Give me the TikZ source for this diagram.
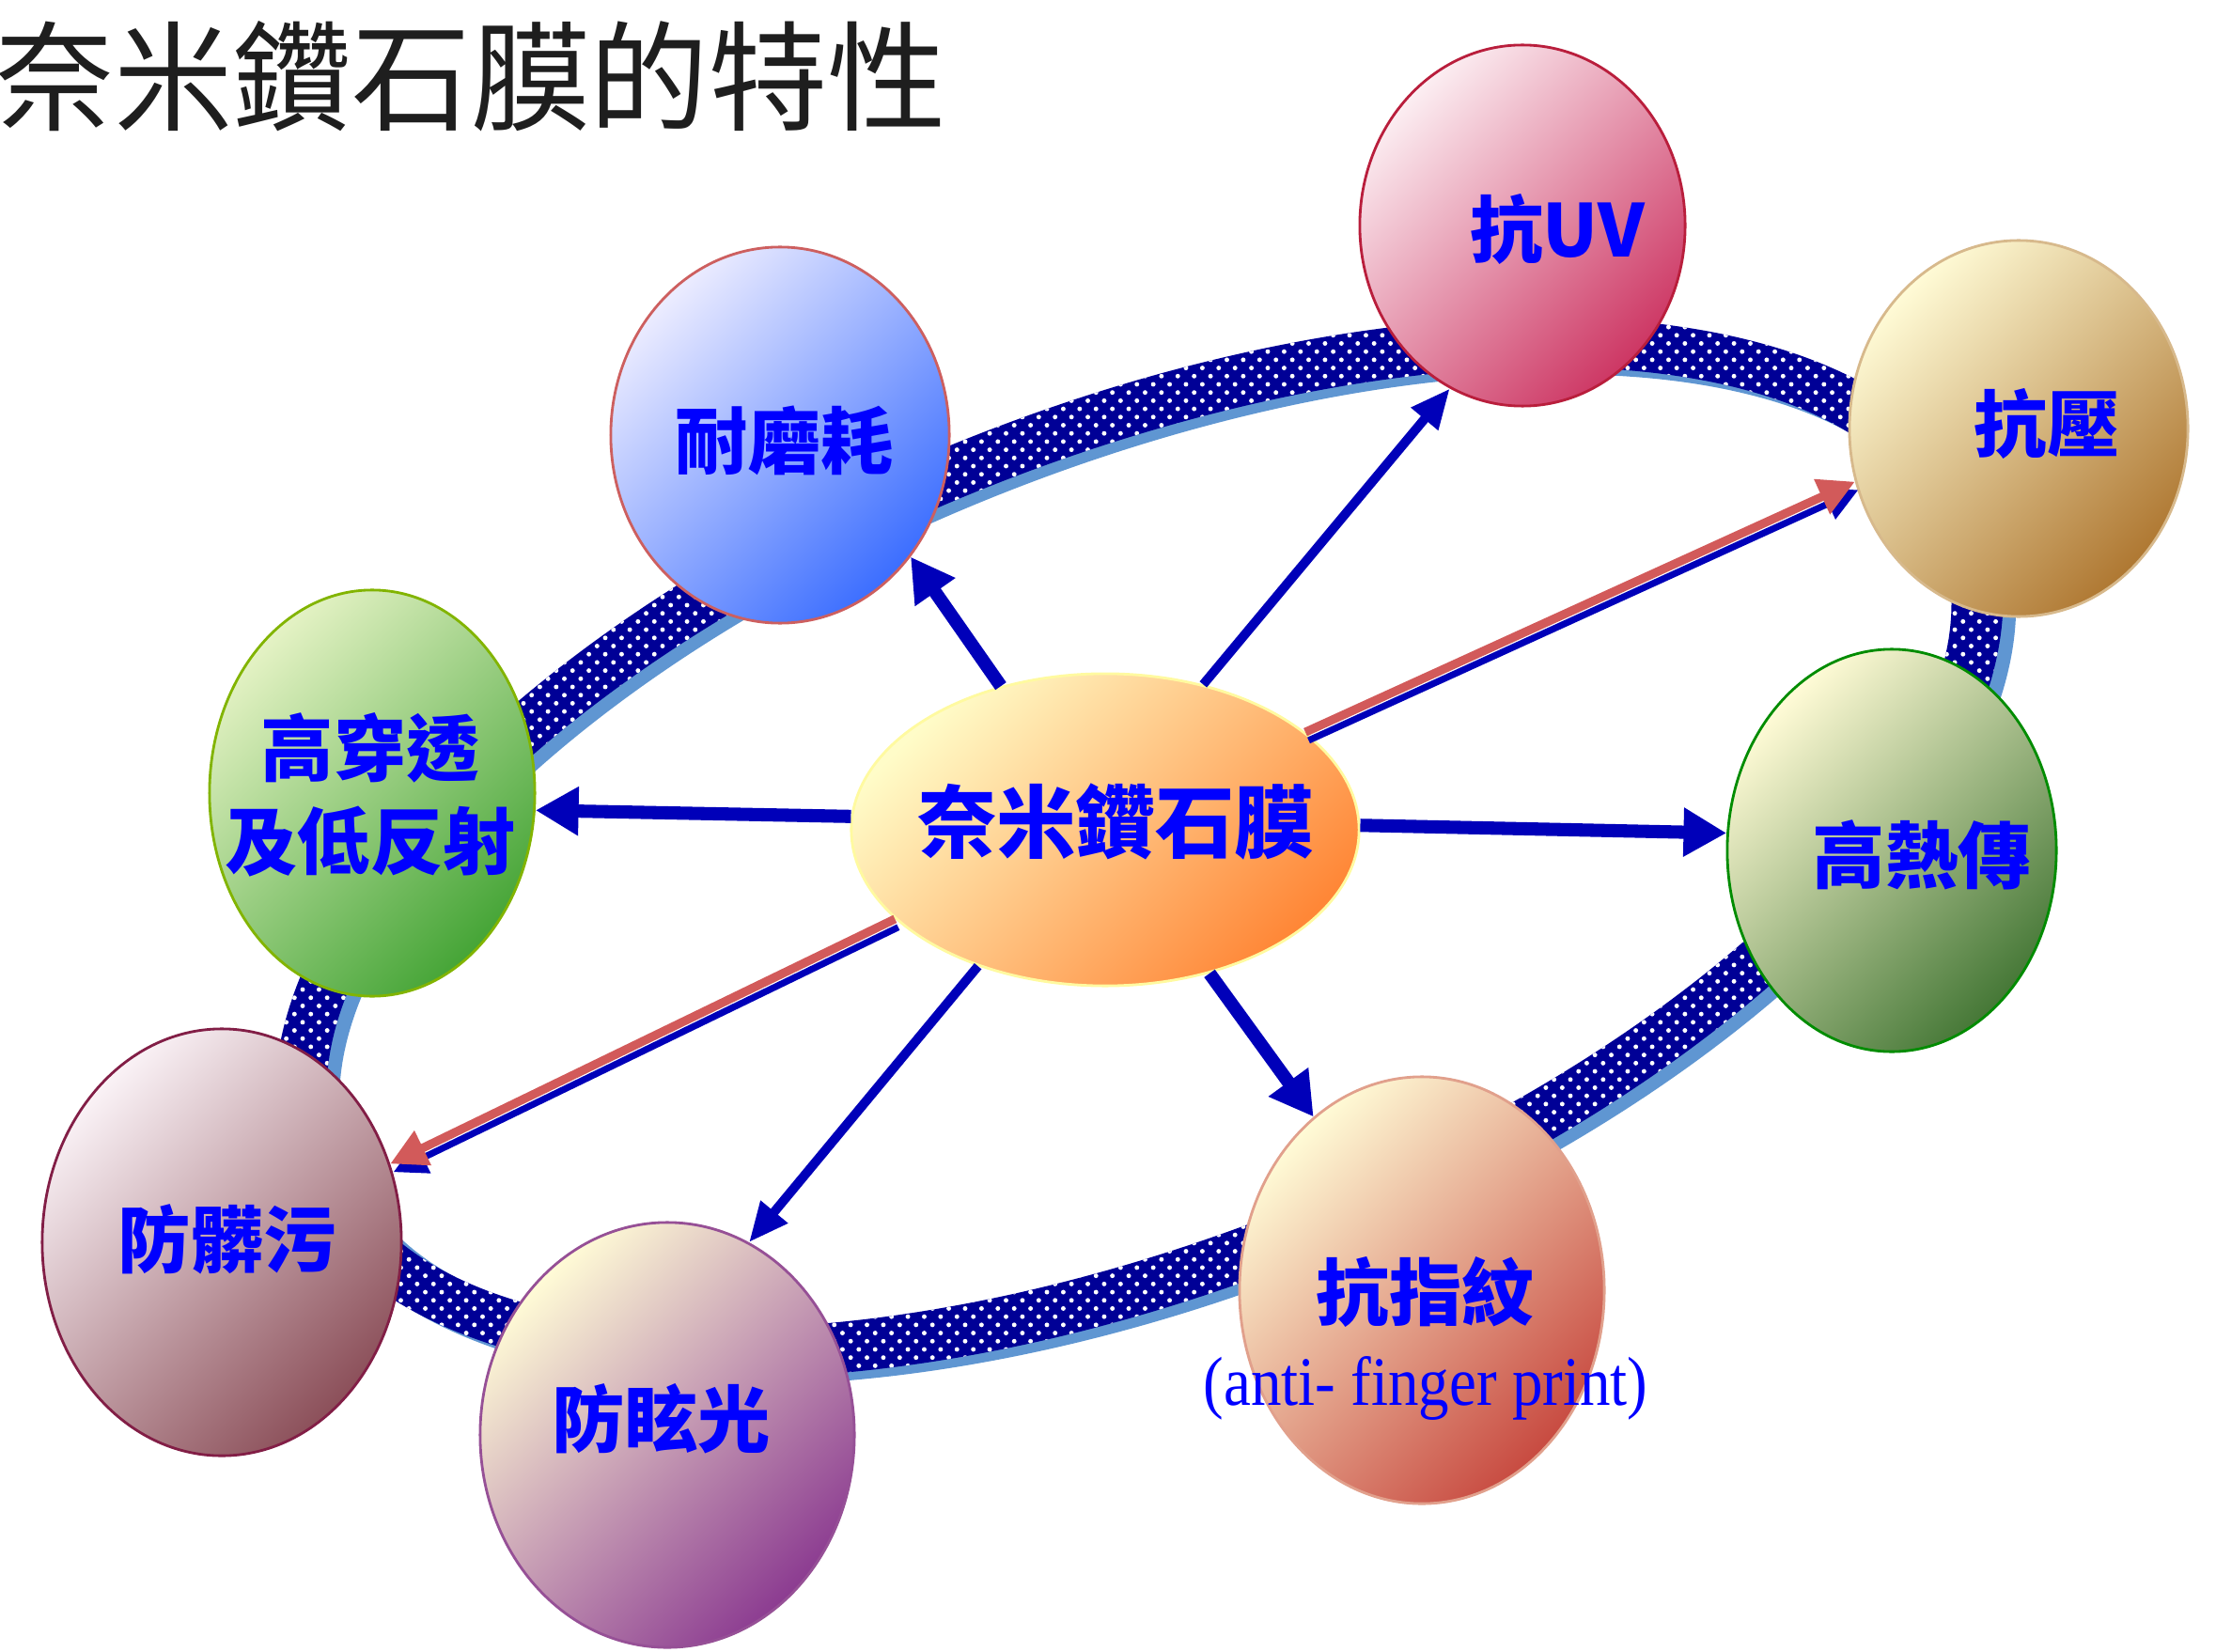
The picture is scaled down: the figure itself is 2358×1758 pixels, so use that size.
\documentclass[tikz,border=0pt]{standalone}
\usepackage{fontspec}
\setmainfont{Liberation Serif}
\newfontfamily\cjk{Noto Sans CJK TC}
\newfontfamily\latin{Liberation Serif}[FakeStretch=0.88]
\usetikzlibrary{arrows.meta,shapes.geometric,patterns.meta}

%色
\definecolor{titlegray}{RGB}{30,30,30}
\definecolor{ringnavy}{RGB}{0,0,150}
\definecolor{ringsky}{RGB}{95,150,210}
\definecolor{arrnavy}{RGB}{0,0,185}
\definecolor{arrred}{RGB}{210,90,90}
\definecolor{lblblue}{RGB}{0,0,255}
\definecolor{creamA}{RGB}{255,251,214}
\definecolor{wearA}{RGB}{236,236,255}\definecolor{wearB}{RGB}{60,110,255}\definecolor{wearE}{RGB}{205,95,95}
\definecolor{uvA}{RGB}{252,238,242}\definecolor{uvB}{RGB}{205,55,100}\definecolor{uvE}{RGB}{185,30,60}
\definecolor{pressB}{RGB}{175,120,50}\definecolor{pressE}{RGB}{215,185,140}
\definecolor{heatB}{RGB}{70,120,55}\definecolor{heatE}{RGB}{0,140,0}
\definecolor{fingerB}{RGB}{200,75,65}\definecolor{fingerE}{RGB}{225,160,140}
\definecolor{glareB}{RGB}{140,60,145}\definecolor{glareE}{RGB}{150,80,150}
\definecolor{dirtA}{RGB}{250,242,246}\definecolor{dirtB}{RGB}{140,80,90}\definecolor{dirtE}{RGB}{130,30,70}
\definecolor{transA}{RGB}{228,242,196}\definecolor{transB}{RGB}{70,165,55}\definecolor{transE}{RGB}{130,180,0}
\definecolor{coreA}{RGB}{255,252,200}\definecolor{coreB}{RGB}{255,135,55}\definecolor{coreE}{RGB}{255,250,160}

\tikzset{
  ball/.style 2 args={ellipse, inner sep=0pt, line width=0.8pt, top color=#1, bottom color=#2, shading angle=45},
  lbl/.style={text=lblblue, font=\cjk\bfseries\fontsize{22}{28}\selectfont, align=center, inner sep=0pt},
  fatarrow/.style={draw=arrnavy, line width=4pt, -{Triangle[length=13pt,width=14pt]}},
  slimarrow/.style={draw=arrnavy, line width=2.8pt, -{Triangle[length=12pt,width=10pt]}},
  redarrow/.style={draw=arrred, line width=2.6pt, -{Triangle[length=11pt,width=11pt]}},
  redshadow/.style={draw=arrnavy, line width=2pt, -{Triangle[length=10pt,width=10pt]}},
  ringpath/.style={even odd rule, rotate around={21.4:(rc)}},
}

\begin{document}
\begin{tikzpicture}[x=0.01cm, y=-0.01cm]
	\useasboundingbox (0,0) rectangle (2358,1758);
	%標題
	\node[anchor=west, inner sep=0pt, text=titlegray, font=\cjk\fontsize{36}{40}\selectfont] (title) at (-6,81) {奈米鑽石膜的特性};
	%外環
	\path (1212,902) coordinate (rc);
	\fill[ringsky, ringpath] (1222,914) ellipse [x radius=970, y radius=472] (1222,914) ellipse [x radius=914, y radius=416];
	\fill[ringnavy, ringpath] (rc) ellipse [x radius=970, y radius=472] (rc) ellipse [x radius=914, y radius=416];
	\path[ringpath, pattern={Dots[distance=3.5pt, radius=0.7pt, angle=45]}, pattern color=white] (rc) ellipse [x radius=970, y radius=472] (rc) ellipse [x radius=914, y radius=416];
	%球
	\node[ball={wearA}{wearB}, draw=wearE, minimum width=3.6cm, minimum height=4cm] (wear) at (830,463) {};
	\node[ball={uvA}{uvB}, draw=uvE, minimum width=3.46cm, minimum height=3.84cm] (uv) at (1620,240) {};
	\node[ball={creamA}{pressB}, draw=pressE, minimum width=3.6cm, minimum height=4cm] (press) at (2148,456) {};
	\node[ball={creamA}{heatB}, draw=heatE, minimum width=3.5cm, minimum height=4.28cm] (heat) at (2013,905) {};
	\node[ball={creamA}{fingerB}, draw=fingerE, minimum width=3.88cm, minimum height=4.54cm] (finger) at (1513,1373) {};
	\node[ball={creamA}{glareB}, draw=glareE, minimum width=3.98cm, minimum height=4.52cm] (glare) at (710,1527) {};
	\node[ball={dirtA}{dirtB}, draw=dirtE, minimum width=3.82cm, minimum height=4.54cm] (dirt) at (236,1322) {};
	\node[ball={transA}{transB}, draw=transE, minimum width=3.46cm, minimum height=4.32cm] (trans) at (396,844) {};
	%中心
	\node[ball={coreA}{coreB}, draw=coreE, minimum width=5.4cm, minimum height=3.32cm] (core) at (1176,883) {};
	%箭頭
	\draw[fatarrow] (core.126) -- (wear.-43);
	\draw[slimarrow] (core.56) -- (uv.246);
	\draw[redshadow] ([shift={(1pt,-2.5pt)}]core.26) -- ([shift={(1pt,-2.5pt)}]press.198);
	\draw[redarrow] (core.26) -- (press.198);
	\draw[fatarrow] (core.1) -- (heat.174);
	\draw[fatarrow] (core.-54) -- (finger.122);
	\draw[slimarrow] (core.227) -- (glare.67);
	\draw[redshadow] ([shift={(1pt,-2.5pt)}]core.203) -- ([shift={(1pt,-2.5pt)}]dirt.25);
	\draw[redarrow] (core.203) -- (dirt.25);
	\draw[fatarrow] (core.177) -- (trans.-6);
	%文字
	\node[lbl, font=\cjk\bfseries\fontsize{24}{28}\selectfont] (t-core) at (1187,874) {奈米鑽石膜};
	\node[lbl] (t-wear) at (835,469) {耐磨耗};
	\node[lbl] (t-uv) at (1657,244) {抗UV};
	\node[lbl] (t-press) at (2178,451) {抗壓};
	\node[lbl] (t-heat) at (2045,910) {高熱傳};
	\node[lbl] (t-finger) at (1517,1375) {抗指紋};
	\node[lbl, font=\latin\fontsize{21}{24}\selectfont, anchor=base] (t-fingeren) at (1517,1495) {(anti- finger print)};
	\node[lbl] (t-glare) at (704,1510) {防眩光};
	\node[lbl] (t-dirt) at (242,1319) {防髒污};
	\node[lbl] (t-trans) at (394,846) {高穿透\\及低反射};
\end{tikzpicture}
\end{document}
